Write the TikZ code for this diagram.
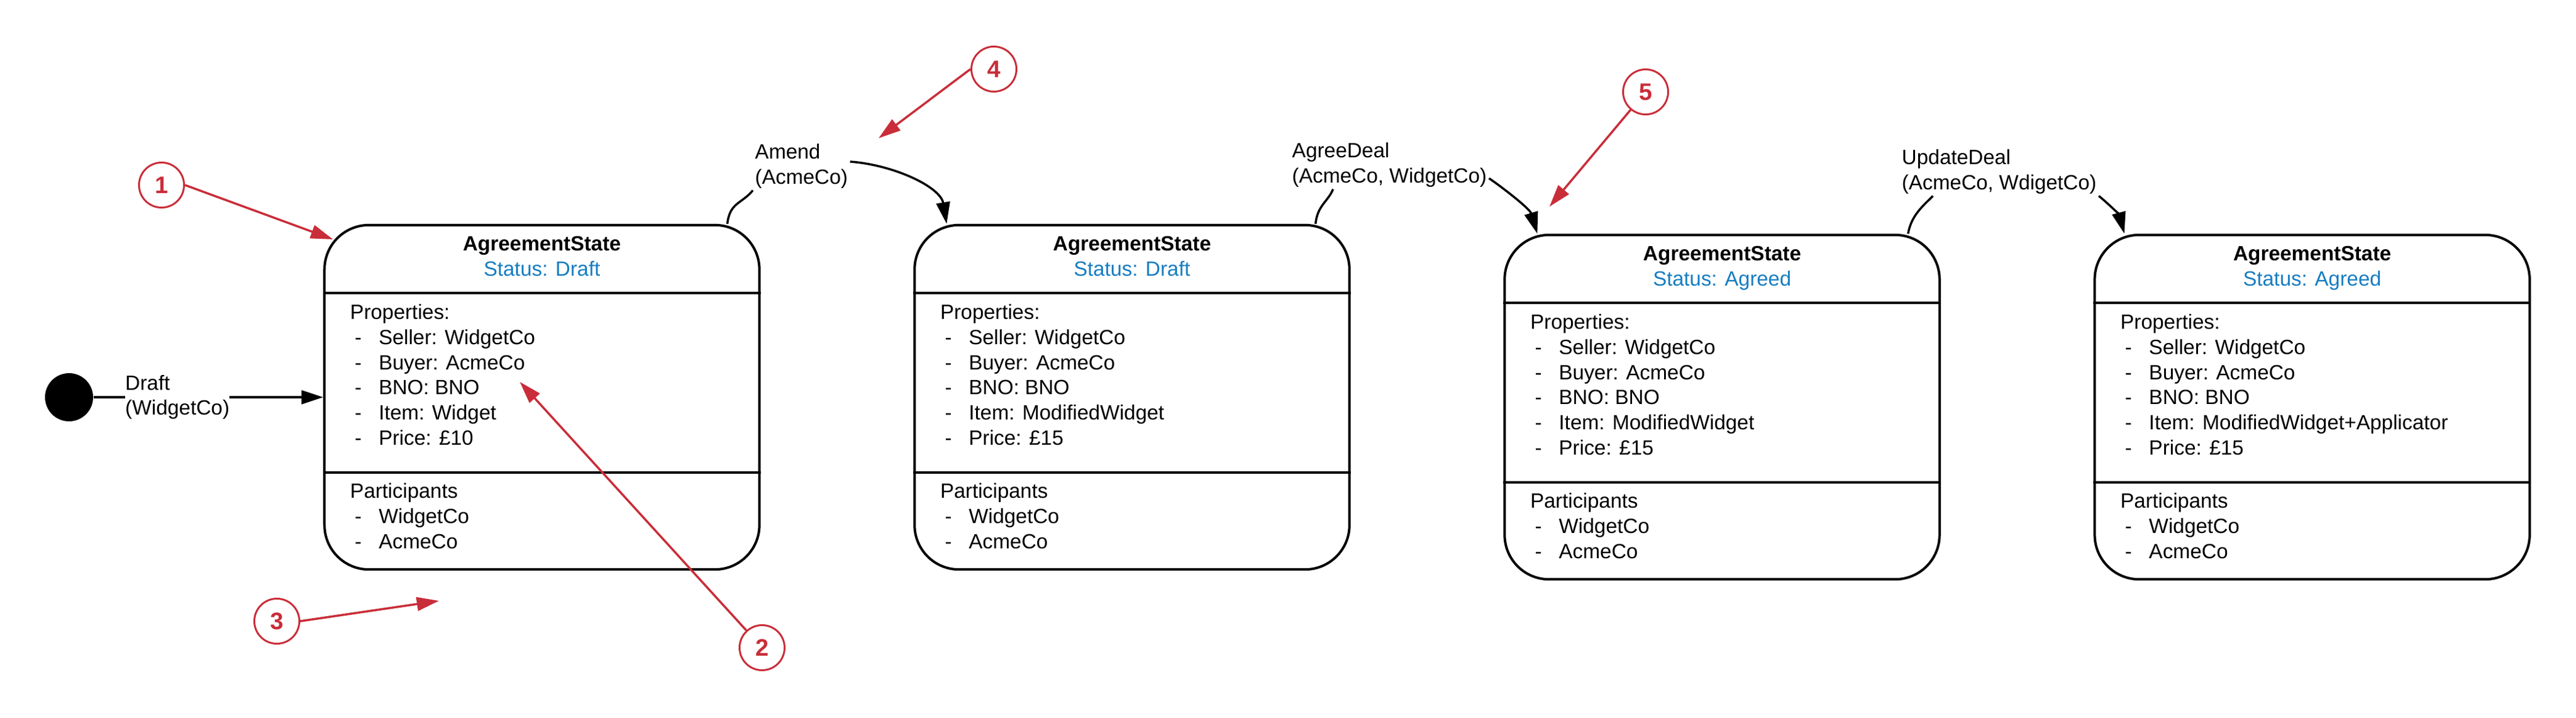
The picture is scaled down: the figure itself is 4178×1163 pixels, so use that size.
\documentclass[tikz,border=0pt]{standalone}
\usepackage{fontspec}
\setmainfont{Liberation Sans}
\usetikzlibrary{arrows.meta}
\definecolor{callred}{RGB}{201,45,57}
\definecolor{statusblue}{RGB}{22,125,194}
\newcommand{\dashitem}{\hspace*{0.075cm}-\hspace*{0.277cm}}

\begin{document}
\begin{tikzpicture}[x=0.01cm, y=-0.01cm, node distance=9.565cm,
                    font=\fontsize{9.5pt}{11.55pt}\selectfont,
                    state box/.style={draw, line width=0.04cm, rounded corners=0.72cm, minimum width=7.05cm, minimum height=5.58cm},
                    start dot/.style={circle, fill, minimum size=0.78cm, inner sep=0pt},
                    call node/.style={circle, draw=callred, line width=0.03cm, text=callred, minimum size=0.73cm, inner sep=0pt, font=\fontsize{11pt}{13pt}\selectfont\bfseries},
                    call arrow/.style={draw=callred, line width=0.035cm, -{Triangle[length=0.36cm,width=0.22cm]}},
                    trans/.style={line width=0.035cm},
                    tip/.style={-{Triangle[length=0.35cm,width=0.22cm]}},
                    trans label/.style={fill=white, inner sep=0.03cm, align=left, anchor=base west},
                    box text/.style={align=left, anchor=base west, inner sep=0pt}]

  \useasboundingbox (0,0) rectangle (4178,1163);

  \node[start dot] (dot) at (112,644) {};
  \node[state box] (s1) [right of=dot, node distance=7.665cm] {};
  \node[state box] (s2) [right of=s1] {};
  \node[state box] (s3) [right of=s2, yshift=-0.16cm] {};
  \node[state box] (s4) [right of=s3] {};

  % state 1
  \node[anchor=base] at ([yshift=-0.44cm]s1.north) {\textbf{AgreementState}};
  \node[anchor=base, text=statusblue] at ([yshift=-0.85cm]s1.north) {Status: Draft};
  \draw[line width=0.04cm] ([yshift=-1.12cm]s1.north west) -- ([yshift=-1.12cm]s1.north east);
  \draw[line width=0.04cm] ([yshift=-4.03cm]s1.north west) -- ([yshift=-4.03cm]s1.north east);
  \node[box text] at ([xshift=0.43cm, yshift=-3.58cm]s1.north west) {Properties:\\ \dashitem Seller: WidgetCo\\ \dashitem Buyer: AcmeCo\\ \dashitem BNO: BNO\\ \dashitem Item: Widget\\ \dashitem Price: £10};
  \node[box text] at ([xshift=0.43cm, yshift=-5.26cm]s1.north west) {Participants\\ \dashitem WidgetCo\\ \dashitem AcmeCo};

  % state 2
  \node[anchor=base] at ([yshift=-0.44cm]s2.north) {\textbf{AgreementState}};
  \node[anchor=base, text=statusblue] at ([yshift=-0.85cm]s2.north) {Status: Draft};
  \draw[line width=0.04cm] ([yshift=-1.12cm]s2.north west) -- ([yshift=-1.12cm]s2.north east);
  \draw[line width=0.04cm] ([yshift=-4.03cm]s2.north west) -- ([yshift=-4.03cm]s2.north east);
  \node[box text] at ([xshift=0.43cm, yshift=-3.58cm]s2.north west) {Properties:\\ \dashitem Seller: WidgetCo\\ \dashitem Buyer: AcmeCo\\ \dashitem BNO: BNO\\ \dashitem Item: ModifiedWidget\\ \dashitem Price: £15};
  \node[box text] at ([xshift=0.43cm, yshift=-5.26cm]s2.north west) {Participants\\ \dashitem WidgetCo\\ \dashitem AcmeCo};

  % state 3
  \node[anchor=base] at ([yshift=-0.44cm]s3.north) {\textbf{AgreementState}};
  \node[anchor=base, text=statusblue] at ([yshift=-0.85cm]s3.north) {Status: Agreed};
  \draw[line width=0.04cm] ([yshift=-1.12cm]s3.north west) -- ([yshift=-1.12cm]s3.north east);
  \draw[line width=0.04cm] ([yshift=-4.03cm]s3.north west) -- ([yshift=-4.03cm]s3.north east);
  \node[box text] at ([xshift=0.43cm, yshift=-3.58cm]s3.north west) {Properties:\\ \dashitem Seller: WidgetCo\\ \dashitem Buyer: AcmeCo\\ \dashitem BNO: BNO\\ \dashitem Item: ModifiedWidget\\ \dashitem Price: £15};
  \node[box text] at ([xshift=0.43cm, yshift=-5.26cm]s3.north west) {Participants\\ \dashitem WidgetCo\\ \dashitem AcmeCo};

  % state 4
  \node[anchor=base] at ([yshift=-0.44cm]s4.north) {\textbf{AgreementState}};
  \node[anchor=base, text=statusblue] at ([yshift=-0.85cm]s4.north) {Status: Agreed};
  \draw[line width=0.04cm] ([yshift=-1.12cm]s4.north west) -- ([yshift=-1.12cm]s4.north east);
  \draw[line width=0.04cm] ([yshift=-4.03cm]s4.north west) -- ([yshift=-4.03cm]s4.north east);
  \node[box text] at ([xshift=0.43cm, yshift=-3.58cm]s4.north west) {Properties:\\ \dashitem Seller: WidgetCo\\ \dashitem Buyer: AcmeCo\\ \dashitem BNO: BNO\\ \dashitem Item: ModifiedWidget+Applicator\\ \dashitem Price: £15};
  \node[box text] at ([xshift=0.43cm, yshift=-5.26cm]s4.north west) {Participants\\ \dashitem WidgetCo\\ \dashitem AcmeCo};

  % transitions
  \draw[trans, tip] (dot) -- (s1) node[pos=0.365, fill=white, inner sep=0pt, align=left] (t0) {Draft\\(WidgetCo)};

  \node[trans label] (t1) at (1221,298) {Amend\\(AcmeCo)};
  \node[trans label] (t2) at (2092,296) {AgreeDeal\\(AcmeCo, WidgetCo)};
  \node[trans label] (t3) at (3081,307) {UpdateDeal\\(AcmeCo, WdigetCo)};

  \draw[trans] ([xshift=-0.54cm]s1.north east) .. controls +(4,-35) and +(-18,22) .. (t1.south west);
  \draw[trans, tip] ([yshift=0.07cm]t1.east) .. controls +(70,5) and +(-10,-60) .. ([xshift=0.54cm]s2.north west);
  \draw[trans] ([xshift=-0.57cm]s2.north east) .. controls +(3,-30) and +(-8,20) .. ([xshift=0.7cm]t2.south west);
  \draw[trans, tip] ([yshift=-0.22cm]t2.east) .. controls +(25,17) and +(-12,-40) .. ([xshift=0.55cm]s3.north west);
  \draw[trans] ([xshift=-0.53cm]s3.north east) .. controls +(5,-30) and +(-15,15) .. ([xshift=0.54cm]t3.south west);
  \draw[trans, tip] (t3.south east) .. controls +(15,12) and +(-8,-30) .. ([xshift=0.5cm]s4.north west);

  % callouts
  \node[call node] (n1) at (262,300) {1};
  \node[call node] (n2) at (1236,1050) {2};
  \node[call node] (n3) at (449,1007) {3};
  \node[call node] (n4) at (1612,112) {4};
  \node[call node] (n5) at (2669,149) {5};
  \coordinate (p1) at (540,388);
  \coordinate (p2) at (843,619);
  \coordinate (p3) at (712,974);
  \coordinate (p4) at (1425,224);
  \coordinate (p5) at (2513,335);
  \draw[call arrow] (n1.east) -- (p1);
  \draw[call arrow] (n2) -- (p2);
  \draw[call arrow] (n3.east) -- (p3);
  \draw[call arrow] (n4.west) -- (p4);
  \draw[call arrow] (n5) -- (p5);

\end{tikzpicture}
\end{document}
